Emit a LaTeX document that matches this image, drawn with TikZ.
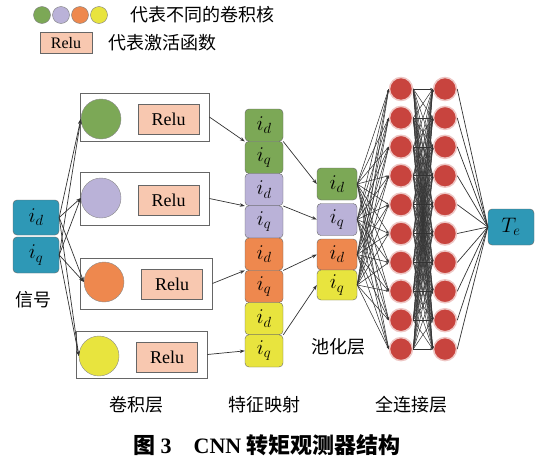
\documentclass[tikz,border=0pt]{standalone}
\usepackage{fontspec}
\usepackage{fix-cm}
\setmainfont{Liberation Serif}
\newfontfamily\cjk{Noto Sans CJK SC}
\usetikzlibrary{arrows.meta}
\definecolor{sigblue}{RGB}{46,152,182}
\definecolor{kgreen}{RGB}{124,168,86}
\definecolor{kpurple}{RGB}{186,178,216}
\definecolor{korange}{RGB}{238,136,78}
\definecolor{kyellow}{RGB}{232,228,62}
\definecolor{relufill}{RGB}{248,200,176}
\definecolor{neured}{RGB}{200,68,62}
\begin{document}
\begin{tikzpicture}[x=1pt,y=-1pt,
	every node/.style={inner sep=0pt},
	link/.style={draw=black!80,line width=0.7pt},
	arr/.style={link,-{Stealth[length=5pt,width=3.5pt]}},
	sig/.style={draw=black!60,fill=sigblue,rounded corners=4pt,minimum width=46pt,minimum height=35pt,font=\fontsize{21}{21}\selectfont},
	kbox/.style={draw=black!60,line width=0.8pt},
	kern/.style={circle,draw=black!45,minimum size=40pt},
	relu/.style={draw=black!60,fill=relufill,minimum width=61pt,minimum height=30pt,font=\fontsize{18}{18}\selectfont},
	fmap/.style={draw=black!60,rounded corners=4pt,minimum width=38pt,minimum height=32.25pt,font=\fontsize{21}{21}\selectfont},
	pool/.style={draw=black!60,rounded corners=4pt,minimum width=40pt,font=\fontsize{21}{21}\selectfont},
	neuron/.style={circle,fill=neured,draw=neured!30,line width=1.5pt,minimum size=23pt},
	lbl/.style={font=\cjk\fontsize{18}{18}\selectfont}]
	\useasboundingbox (0,0) rectangle (535,466);
	%legend
	\foreach \c [count=\k] in {kgreen,kpurple,korange,kyellow}
		\node[circle,draw=black!50,fill=\c,minimum size=17pt] (lg\k) at ({23+19*\k},15) {};
	\node[lbl,anchor=west] (lgt) at (130,15) {代表不同的卷积核};
	\node[relu,minimum width=52pt,minimum height=21pt,font=\fontsize{16}{16}\selectfont] (lgr) at (66,43) {Relu};
	\node[lbl,anchor=west] (lgrt) at (108,43) {代表激活函数};
	%signal
	\node[sig] (s1) at (36,217.5) {$i_d$};
	\node[sig,minimum height=36pt] (s2) at (36,255) {$i_q$};
	\node[lbl] (sigl) at (33,300) {信号};
	%convolution
	\node[kbox,minimum width=129pt,minimum height=48pt] (c1) at (144.5,117) {};
	\node[kbox,minimum width=129pt,minimum height=53pt] (c2) at (144.5,198.5) {};
	\node[kbox,minimum width=132pt,minimum height=51pt] (c3) at (146,283.5) {};
	\node[kbox,minimum width=131pt,minimum height=47pt] (c4) at (141.5,354.5) {};
	\node[kern,fill=kgreen] (k1) at (101,119) {};
	\node[kern,fill=kpurple] (k2) at (101,198) {};
	\node[kern,fill=korange] (k3) at (104,282) {};
	\node[kern,fill=kyellow] (k4) at (99,356) {};
	\node[relu] (r1) at (168.5,119) {Relu};
	\node[relu] (r2) at (168.5,200) {Relu};
	\node[relu] (r3) at (172,284) {Relu};
	\node[relu] (r4) at (167,357) {Relu};
	\node[lbl] (convl) at (136,405) {卷积层};
	\foreach \s in {1,2}
		\foreach \k in {1,...,4}
			\draw[arr] (s\s.east) -- (k\k.west);
	%feature maps
	\foreach \k/\col/\sub in {1/kgreen/d,2/kgreen/q,3/kpurple/d,4/kpurple/q,5/korange/d,6/korange/q,7/kyellow/d,8/kyellow/q}
		\node[fmap,fill=\col] (f\k) at (264,{125.125+(\k-1)*32.25}) {$i_{\sub}$};
	\node[lbl] (fml) at (264,405) {特征映射};
	\draw[arr] (c1.east) -- (f1.south west);
	\draw[arr] (c2.east) -- (f3.south west);
	\draw[arr] (c3.east) -- (f5.south west);
	\draw[arr] (c4.east) -- (f8.west);
	%pooling
	\node[pool,fill=kgreen,minimum height=32pt] (p1) at (337,184) {$i_d$};
	\node[pool,fill=kpurple,minimum height=32pt] (p2) at (337,219.5) {$i_q$};
	\node[pool,fill=korange,minimum height=31pt] (p3) at (337,254.5) {$i_d$};
	\node[pool,fill=kyellow,minimum height=30pt] (p4) at (337,285) {$i_q$};
	\node[lbl] (pooll) at (338,347) {池化层};
	\draw[arr] (f1.south east) -- (p1.west);
	\draw[arr] (f3.south east) -- (p2.west);
	\draw[arr] (f5.south east) -- (p3.west);
	\draw[arr] (f7.south east) -- (p4.west);
	%fully connected
	\foreach \k in {1,...,10} {
		\node[neuron] (n\k) at (401,{89+28.9*(\k-1)}) {};
		\node[neuron] (m\k) at (445,{89+28.9*(\k-1)}) {};
	}
	\node[sig,minimum height=36pt] (te) at (511,227) {$T_e$};
	\foreach \i in {1,...,4}
		\foreach \k in {1,...,10}
			\draw[link,line width=0.55pt,-{Stealth[length=3pt,width=2pt]}] (p\i.east) -- (n\k.west);
	\foreach \i in {1,...,10}
		\foreach \k in {1,...,10}
			\draw[link,line width=0.5pt,-{Stealth[length=2.5pt,width=2pt]}] (n\i.east) -- (m\k.west);
	\foreach \k in {1,...,10}
		\draw[link] (m\k.east) -- (te.west);
	\node[lbl] (fcl) at (411,405) {全连接层};
	%caption
	\node[font=\bfseries\fontsize{22}{22}\selectfont] (cap) at (267,445) {{\cjk\bfseries 图} 3\quad CNN {\cjk\bfseries 转矩观测器结构}};
\end{tikzpicture}
\end{document}
